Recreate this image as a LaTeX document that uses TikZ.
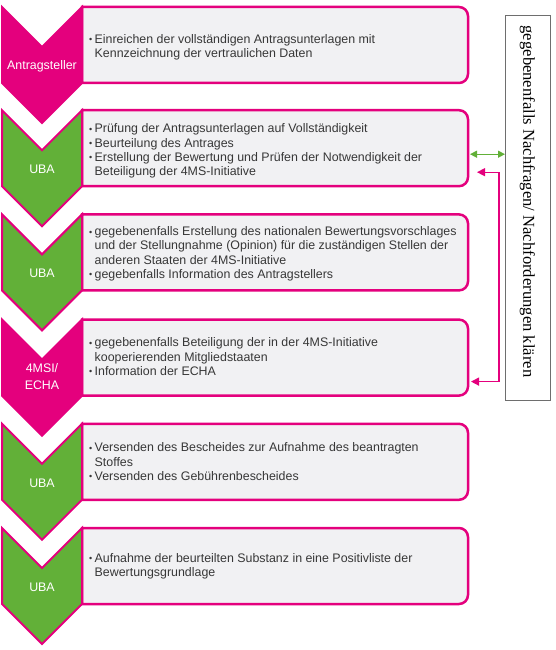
\documentclass[tikz,border=0pt]{standalone}
\usepackage{fontspec}
\setmainfont{Liberation Sans}
\newfontfamily\serifright{Liberation Serif}
\usetikzlibrary{arrows.meta}
\definecolor{umag}{RGB}{228,0,125}
\definecolor{ugreen}{RGB}{98,176,56}
\definecolor{ufill}{RGB}{241,241,243}
\definecolor{utext}{RGB}{55,55,55}
\definecolor{ugray}{RGB}{110,110,110}
\newcommand{\chevpath}[1]{%
  (2,-#1) -- (42,-#1-40) -- (82,-#1) -- (82,-#1-76) -- (42,-#1-116) -- (2,-#1-76) -- cycle}
\newcommand{\bl}{\makebox[5.5pt][l]{\raisebox{0.6pt}{\fontsize{9}{9}\selectfont\textbullet}}}
\tikzset{
  boxnode/.style={minimum width=386pt, minimum height=76pt, inner sep=0pt, outer sep=0pt},
  boxline/.style={draw=umag, line width=2.5pt, fill=ufill},
  chevpink/.style={fill=umag, draw=umag, line width=2pt, line join=miter},
  chevgreen/.style={fill=ugreen, draw=umag, line width=2pt, line join=miter},
  chevlabel/.style={text=white, font=\fontsize{12.4}{17.6}\selectfont, align=center, inner sep=0pt},
  boxtext/.style={anchor=west, text=utext, font=\fontsize{12.4}{14.3}\selectfont, inner sep=0pt, align=left},
  sidebox/.style={draw=ugray, line width=0.9pt, fill=white, minimum width=45pt, minimum height=385pt, inner sep=0pt, outer sep=0pt},
  sidetext/.style={rotate=-90, font=\serifright\fontsize{16.6}{18}\selectfont, text=black, inner sep=0pt},
  greenarrow/.style={draw=ugreen, line width=1.3pt, {Triangle[length=7pt,width=7pt]}-{Triangle[length=7pt,width=7pt]}},
  pinkarrow/.style={draw=umag, line width=1.3pt, {Triangle[length=8pt,width=8pt]}-{Triangle[length=8pt,width=8pt]}}
}
\newcommand{\boxoutline}[1]{%
  \draw[boxline] (#1.north west) -- ([xshift=-9pt]#1.north east) arc[start angle=90,end angle=0,radius=9pt]
    -- ([yshift=9pt]#1.south east) arc[start angle=0,end angle=-90,radius=9pt] -- (#1.south west) -- cycle;}
\begin{document}
\begin{tikzpicture}[x=1pt,y=1pt]
\useasboundingbox (0,0) rectangle (556,-650);
% boxes
\foreach \i/\T in {1/7,2/110.2,3/214.4,4/319.6,5/423.8,6/528}{
  \node[boxnode] (b\i) at (275,-\T-38) {};
  \boxoutline{b\i}
}
% chevrons
\draw[chevpink]  \chevpath{7};
\draw[chevgreen] \chevpath{110.2};
\draw[chevgreen] \chevpath{214.4};
\draw[chevpink]  \chevpath{319.6};
\draw[chevgreen] \chevpath{423.8};
\draw[chevgreen] \chevpath{528};
\node[chevlabel] (c1) at (42,-7-59) {Antragsteller};
\node[chevlabel] (c2) at (42,-110.2-59) {UBA};
\node[chevlabel] (c3) at (42,-214.4-59) {UBA};
\node[chevlabel] (c4) at (42,-319.6-57) {4MSI/\\ECHA};
\node[chevlabel] (c5) at (42,-423.8-59) {UBA};
\node[chevlabel] (c6) at (42,-528-59) {UBA};
% texts
\node[boxtext] (t1) at ([xshift=7pt,yshift=-2pt]b1.west) {%
  \bl Einreichen der vollständigen Antragsunterlagen mit\\
  \hspace*{5.5pt}Kennzeichnung der vertraulichen Daten};
\node[boxtext] (t2) at ([xshift=7pt,yshift=-3pt]b2.west) {%
  \bl Prüfung der Antragsunterlagen auf Vollständigkeit\\
  \bl Beurteilung des Antrages\\
  \bl Erstellung der Bewertung und Prüfen der Notwendigkeit der\\
  \hspace*{5.5pt}Beteiligung der 4MS-Initiative};
\node[boxtext] (t3) at ([xshift=7pt,yshift=-1.5pt]b3.west) {%
  \bl gegebenenfalls Erstellung des nationalen Bewertungsvorschlages\\
  \hspace*{5.5pt}und der Stellungnahme (Opinion) für die zuständigen Stellen der\\
  \hspace*{5.5pt}anderen Staaten der 4MS-Initiative\\
  \bl gegebenfalls Information des Antragstellers};
\node[boxtext] (t4) at ([xshift=7pt,yshift=1pt]b4.west) {%
  \bl gegebenenfalls Beteiligung der in der 4MS-Initiative\\
  \hspace*{5.5pt}kooperierenden Mitgliedstaaten\\
  \bl Information der ECHA};
\node[boxtext] (t5) at ([xshift=7pt,yshift=0pt]b5.west) {%
  \bl Versenden des Bescheides zur Aufnahme des beantragten\\
  \hspace*{5.5pt}Stoffes\\
  \bl Versenden des Gebührenbescheides};
\node[boxtext] (t6) at ([xshift=7pt,yshift=-0.5pt]b6.west) {%
  \bl Aufnahme der beurteilten Substanz in eine Positivliste der\\
  \hspace*{5.5pt}Bewertungsgrundlage};
% side box
\node[sidebox] (r) at (527.5,-207.5) {};
\node[sidetext] (rt) at ([yshift=6pt]r.center) {gegebenenfalls Nachfragen/ Nachforderungen klären};
% connectors
\draw[greenarrow] ([xshift=2pt,yshift=-6pt]b2.east) -- ([yshift=-6pt]b2.east -| r.west);
\coordinate (k1) at ([xshift=31pt,yshift=-24pt]b2.east);
\coordinate (k2) at ([xshift=31pt,yshift=-24pt]b4.east);
\draw[pinkarrow] ([xshift=9pt,yshift=-24pt]b2.east) -- (k1) -- (k2) -- ([xshift=3pt,yshift=-24pt]b4.east);
\end{tikzpicture}
\end{document}
